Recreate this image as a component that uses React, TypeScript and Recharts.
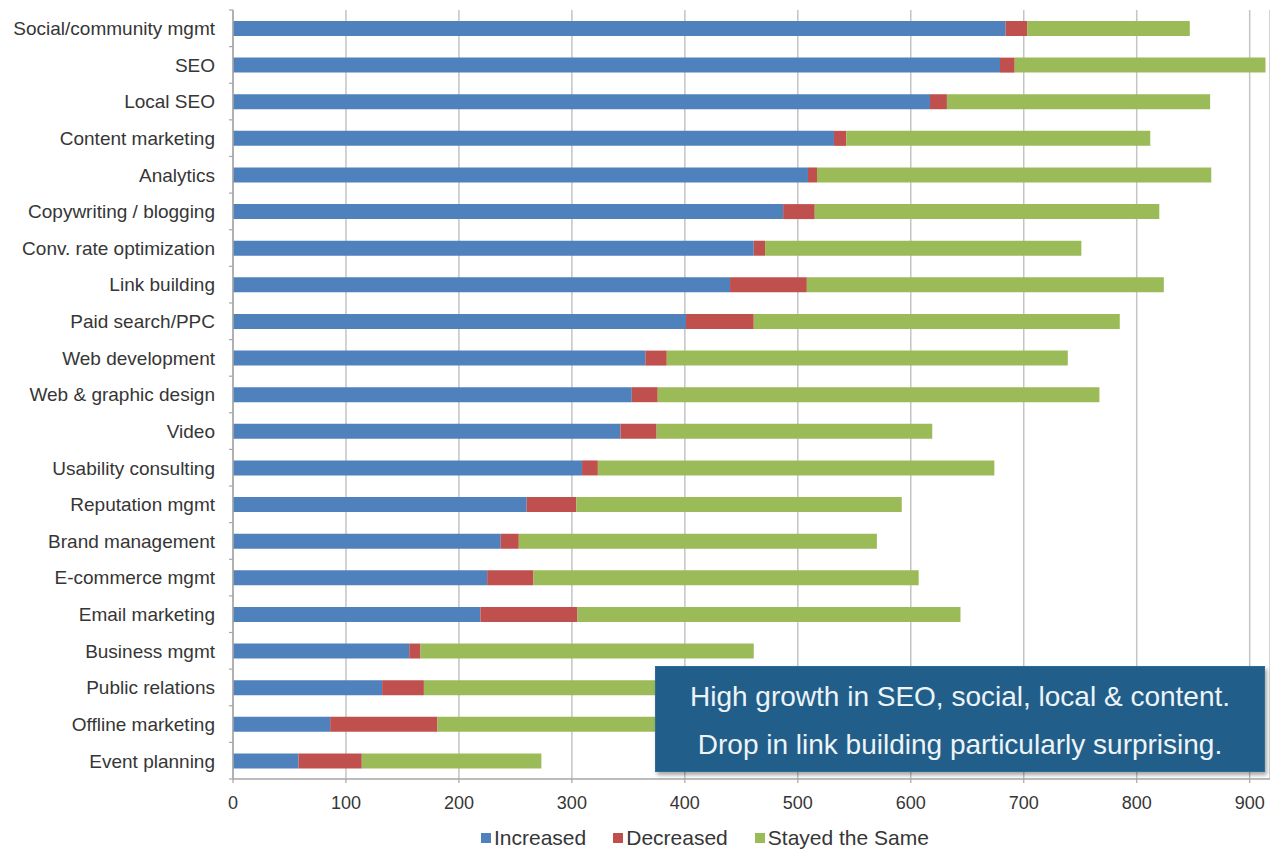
import React from 'react';
import { BarChart, Bar, XAxis, YAxis, CartesianGrid, Legend } from 'recharts';

const CATEGORIES = [
  'Social/community mgmt',
  'SEO',
  'Local SEO',
  'Content marketing',
  'Analytics',
  'Copywriting / blogging',
  'Conv. rate optimization',
  'Link building',
  'Paid search/PPC',
  'Web development',
  'Web & graphic design',
  'Video',
  'Usability consulting',
  'Reputation mgmt',
  'Brand management',
  'E-commerce mgmt',
  'Email marketing',
  'Business mgmt',
  'Public relations',
  'Offline marketing',
  'Event planning',
];

const INCREASED = [684, 679, 617, 532, 509, 487, 461, 440, 401, 365, 353, 343, 309, 260, 237, 225, 219, 156, 132, 86, 58];
const DECREASED = [19, 13, 15, 11, 8, 28, 10, 68, 60, 19, 23, 32, 14, 44, 16, 41, 86, 10, 37, 95, 56];
const STAYED = [144, 222, 233, 269, 349, 305, 280, 316, 324, 355, 391, 244, 351, 288, 317, 341, 339, 295, 351, 299, 159];

const SERIES_NAMES = ['Increased', 'Decreased', 'Stayed the Same'];
const X_TICKS = [0, 100, 200, 300, 400, 500, 600, 700, 800, 900];
const X_DOMAIN_MAX = 918;
const ANNOTATION_LINES = [
  'High growth in SEO, social, local & content.',
  'Drop in link building particularly surprising.',
];

const data = CATEGORIES.map((name, i) => ({
  name,
  increased: INCREASED[i],
  decreased: DECREASED[i],
  stayed: STAYED[i],
}));

const FONT = '"Liberation Sans", Arial, Helvetica, sans-serif';
const TEXT_COLOR = '#363636';
const AXIS_COLOR = '#a6a6a6';
const GRID_COLOR = '#c4c4c4';
const COLORS = ['#4F81BD', '#C0504D', '#9BBB59'];

const CHART_W = 1270;
const CHART_H = 849;
const MARGIN = { top: 10, right: 0, bottom: 0, left: 0 };
const Y_AXIS_W = 233;
const X_AXIS_H = 40;
const LEGEND_H = 30;
const PLOT_H = CHART_H - MARGIN.top - MARGIN.bottom - X_AXIS_H - LEGEND_H;
const HALF_BAND = PLOT_H / CATEGORIES.length / 2;
const Y_TICK_SIZE = 6;
const Y_TICK_MARGIN = 12;

function YTick(props: any) {
  const { x, y, payload, index, visibleTicksCount } = props;
  const ax = x + Y_TICK_SIZE + Y_TICK_MARGIN;
  return (
    <g>
      <line x1={ax - 4} x2={ax} y1={y - HALF_BAND} y2={y - HALF_BAND} stroke={AXIS_COLOR} strokeWidth={1.2} />
      {index === visibleTicksCount - 1 && (
        <line x1={ax - 4} x2={ax} y1={y + HALF_BAND} y2={y + HALF_BAND} stroke={AXIS_COLOR} strokeWidth={1.2} />
      )}
      <text
        x={x}
        y={y}
        dy="0.36em"
        textAnchor="end"
        fill={TEXT_COLOR}
        fontSize={19}
        fontFamily={FONT}
      >
        {payload.value}
      </text>
    </g>
  );
}

function LegendContent(props: any) {
  const items = [...(props.payload || [])].sort(
    (a: any, b: any) => SERIES_NAMES.indexOf(a.value) - SERIES_NAMES.indexOf(b.value)
  );
  return (
    <div
      style={{
        height: LEGEND_H,
        boxSizing: 'border-box',
        paddingTop: 7,
        display: 'flex',
        alignItems: 'center',
        fontFamily: FONT,
        fontSize: 21,
        lineHeight: '23px',
        color: TEXT_COLOR,
        whiteSpace: 'nowrap',
      }}
    >
      {items.map((entry: any, i: number) => (
        <div key={i} style={{ display: 'flex', alignItems: 'center', marginRight: 27 }}>
          <span
            style={{
              display: 'inline-block',
              width: 10,
              height: 10,
              background: entry.color,
              marginRight: 3,
            }}
          />
          <span>{entry.value}</span>
        </div>
      ))}
    </div>
  );
}

export default function App() {
  return (
    <div style={{ position: 'relative', width: CHART_W, height: CHART_H, overflow: 'hidden', background: '#fff' }}>
      <style>{`html,body{margin:0;padding:0;overflow:hidden;background:#fff}`}</style>
      <BarChart
        width={CHART_W}
        height={CHART_H}
        data={data}
        layout="vertical"
        margin={MARGIN}
        barSize={15}
      >
        <CartesianGrid horizontal={false} vertical stroke={GRID_COLOR} strokeWidth={1.5} />
        <XAxis
          type="number"
          domain={[0, X_DOMAIN_MAX]}
          ticks={X_TICKS}
          allowDataOverflow
          height={X_AXIS_H}
          axisLine={{ stroke: AXIS_COLOR, strokeWidth: 1.5 }}
          tickLine={{ stroke: AXIS_COLOR, strokeWidth: 1.2 }}
          tickSize={4}
          tickMargin={13}
          tick={{ fontSize: 18, fill: TEXT_COLOR, fontFamily: FONT }}
        />
        <YAxis
          type="category"
          dataKey="name"
          width={Y_AXIS_W}
          interval={0}
          axisLine={{ stroke: AXIS_COLOR, strokeWidth: 1.5 }}
          tickLine={false}
          tickSize={Y_TICK_SIZE}
          tickMargin={Y_TICK_MARGIN}
          tick={<YTick />}
        />
        <Legend
          verticalAlign="bottom"
          align="left"
          height={LEGEND_H}
          itemSorter={null as any}
          content={<LegendContent />}
          wrapperStyle={{ left: 481, bottom: 0, width: 'auto' }}
        />
        <Bar dataKey="increased" name={SERIES_NAMES[0]} stackId="a" fill={COLORS[0]} isAnimationActive={false} />
        <Bar dataKey="decreased" name={SERIES_NAMES[1]} stackId="a" fill={COLORS[1]} isAnimationActive={false} />
        <Bar dataKey="stayed" name={SERIES_NAMES[2]} stackId="a" fill={COLORS[2]} isAnimationActive={false} />
      </BarChart>
      <div
        style={{
          position: 'absolute',
          left: 655,
          top: 666,
          width: 610,
          height: 106,
          boxSizing: 'border-box',
          background: '#215f8a',
          border: '1px solid #2c6c96',
          boxShadow: '2px 3px 4px rgba(0,0,0,0.35)',
          color: '#eef3f6',
          fontFamily: FONT,
          fontSize: 28,
          lineHeight: '48px',
          paddingTop: 6,
          textAlign: 'center',
        }}
      >
        {ANNOTATION_LINES.map((line, i) => (
          <div key={i}>{line}</div>
        ))}
      </div>
    </div>
  );
}
